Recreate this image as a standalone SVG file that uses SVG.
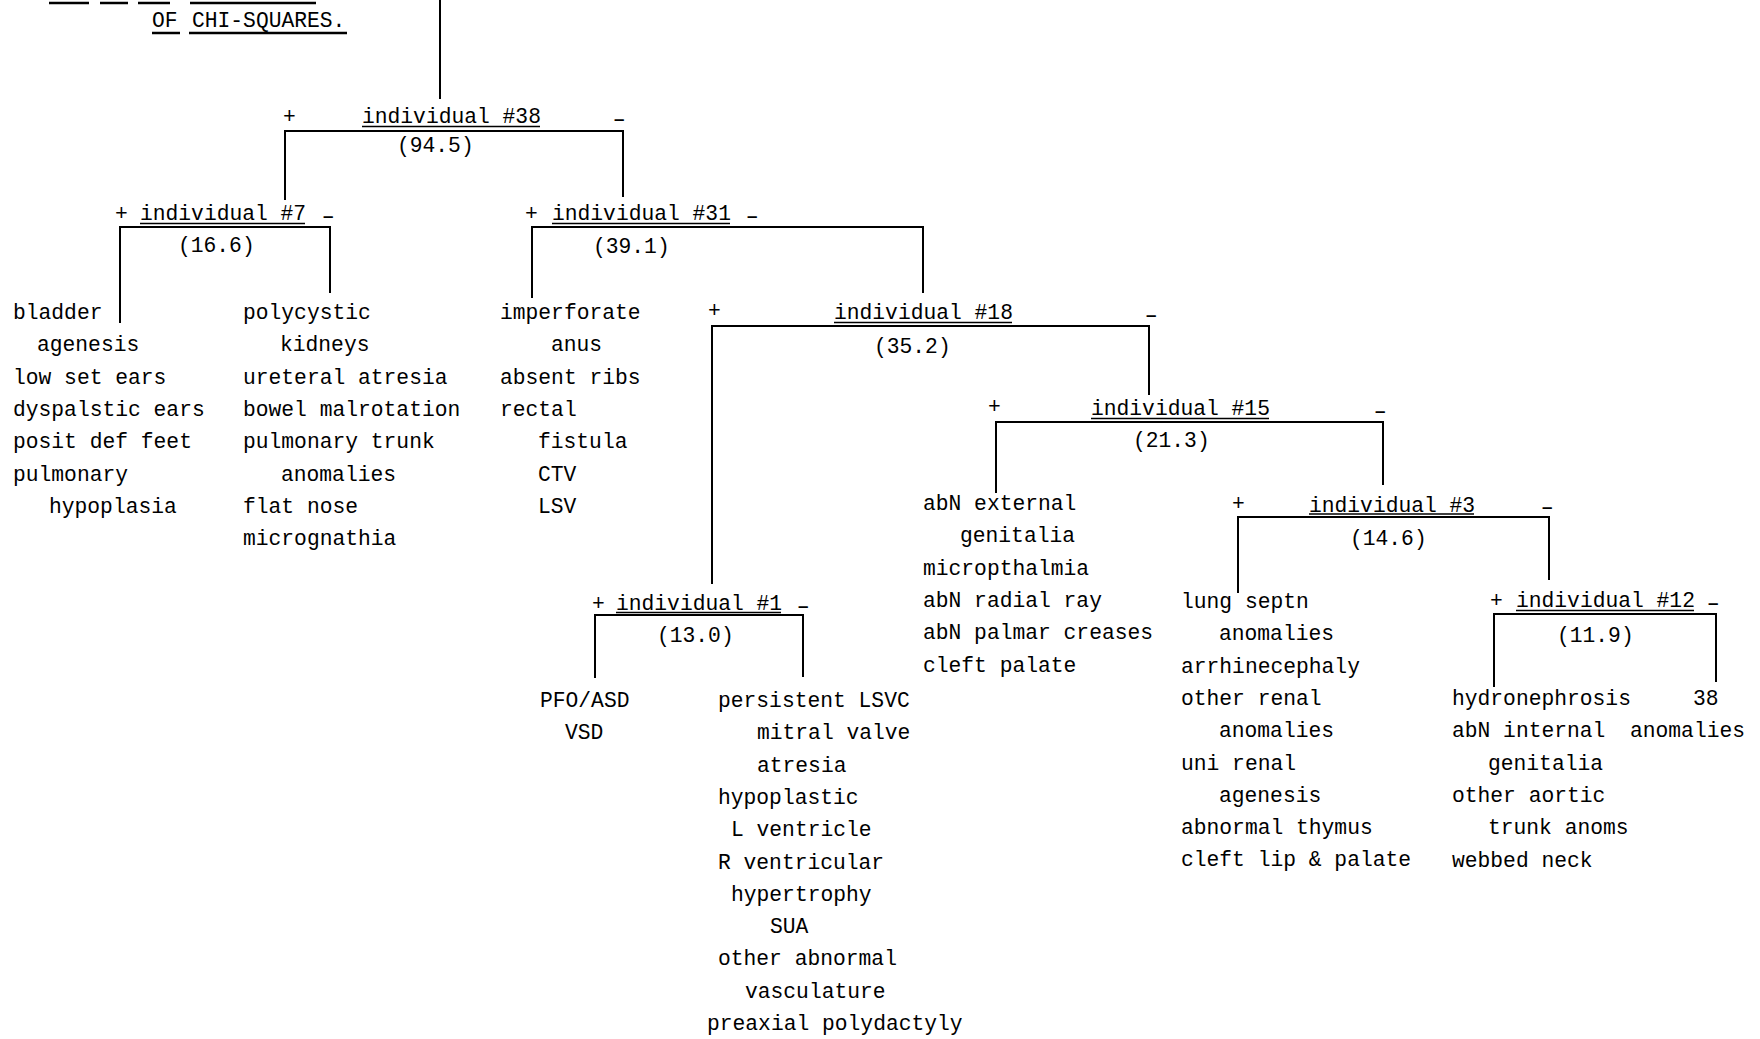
<svg xmlns="http://www.w3.org/2000/svg" width="1760" height="1039" viewBox="0 0 1760 1039">
<style>
text { font-family: "Liberation Mono", "DejaVu Sans Mono", monospace; font-size: 21.3px; fill: #000; }
.ln { stroke: #000; stroke-width: 2; fill: none; }
.ul { stroke: #000; stroke-width: 1.5; }
.tul { stroke: #000; stroke-width: 2.5; }
</style>
<rect width="1760" height="1039" fill="#fff"/>

<g id="title">
  <line class="tul" x1="49" y1="3" x2="89" y2="3"/>
  <line class="tul" x1="100" y1="3" x2="128" y2="3"/>
  <line class="tul" x1="138" y1="3" x2="170" y2="3"/>
  <line class="tul" x1="190" y1="3" x2="316" y2="3"/>
  <text x="152" y="27">OF</text>
  <text x="192" y="27">CHI-SQUARES.</text>
  <line class="tul" x1="152" y1="33" x2="180" y2="33"/>
  <line class="tul" x1="189" y1="33" x2="347" y2="33"/>
</g>

<g id="connectors" class="ln">
  <path d="M440,0 V99"/>
  <path d="M285,200 V131 H623 V197"/>
  <path d="M120,323 V227 H330 V293"/>
  <path d="M532,298 V227 H923 V293"/>
  <path d="M712,584 V326 H1149 V395"/>
  <path d="M996,493 V422 H1383 V485"/>
  <path d="M1238,593 V517 H1549 V580"/>
  <path d="M1494,687 V614 H1716 V682"/>
  <path d="M595,678 V615 H803 V677"/>
</g>

<g id="node38">
  <text x="283" y="123">+</text>
  <text x="362" y="123">individual #38</text>
  <line class="ul" x1="362" y1="126.5" x2="540" y2="126.5"/>
  <text transform="translate(609,126) scale(1.6,1)">-</text>
  <text x="397" y="152">(94.5)</text>
</g>

<g id="node7">
  <text x="115" y="220">+</text>
  <text x="140" y="220">individual #7</text>
  <line class="ul" x1="140" y1="223.5" x2="305" y2="223.5"/>
  <text transform="translate(318,223) scale(1.6,1)">-</text>
  <text x="178" y="252">(16.6)</text>
</g>

<g id="node31">
  <text x="525" y="220">+</text>
  <text x="552" y="220">individual #31</text>
  <line class="ul" x1="552" y1="223.5" x2="730" y2="223.5"/>
  <text transform="translate(742,223) scale(1.6,1)">-</text>
  <text x="593" y="253">(39.1)</text>
</g>

<g id="node18">
  <text x="708" y="317">+</text>
  <text x="834" y="319">individual #18</text>
  <line class="ul" x1="834" y1="322.5" x2="1012" y2="322.5"/>
  <text transform="translate(1141,322) scale(1.6,1)">-</text>
  <text x="874" y="353">(35.2)</text>
</g>

<g id="node15">
  <text x="988" y="413">+</text>
  <text x="1091" y="415">individual #15</text>
  <line class="ul" x1="1091" y1="418.5" x2="1269" y2="418.5"/>
  <text transform="translate(1370,418) scale(1.6,1)">-</text>
  <text x="1133" y="447">(21.3)</text>
</g>

<g id="node3">
  <text x="1232" y="510">+</text>
  <text x="1309" y="512">individual #3</text>
  <line class="ul" x1="1309" y1="514" x2="1474" y2="514"/>
  <text transform="translate(1537,514) scale(1.6,1)">-</text>
  <text x="1350" y="545">(14.6)</text>
</g>

<g id="node12">
  <text x="1490" y="607">+</text>
  <text x="1516" y="607">individual #12</text>
  <line class="ul" x1="1516" y1="610.5" x2="1694" y2="610.5"/>
  <text transform="translate(1703,610) scale(1.6,1)">-</text>
  <text x="1557" y="642">(11.9)</text>
</g>

<g id="node1">
  <text x="592" y="610">+</text>
  <text x="616" y="610">individual #1</text>
  <line class="ul" x1="616" y1="612.5" x2="781" y2="612.5"/>
  <text transform="translate(793,613) scale(1.6,1)">-</text>
  <text x="657" y="642">(13.0)</text>
</g>

<g id="leaf7plus">
  <text>
    <tspan x="13" y="319">bladder</tspan>
    <tspan x="37" y="351.3">agenesis</tspan>
    <tspan x="13" y="383.6">low set ears</tspan>
    <tspan x="13" y="415.9">dyspalstic ears</tspan>
    <tspan x="13" y="448.2">posit def feet</tspan>
    <tspan x="13" y="480.5">pulmonary</tspan>
    <tspan x="49" y="512.8">hypoplasia</tspan>
  </text>
</g>

<g id="leaf7minus">
  <text>
    <tspan x="243" y="319">polycystic</tspan>
    <tspan x="280" y="351.3">kidneys</tspan>
    <tspan x="243" y="383.6">ureteral atresia</tspan>
    <tspan x="243" y="415.9">bowel malrotation</tspan>
    <tspan x="243" y="448.2">pulmonary trunk</tspan>
    <tspan x="281" y="480.5">anomalies</tspan>
    <tspan x="243" y="512.8">flat nose</tspan>
    <tspan x="243" y="545.1">micrognathia</tspan>
  </text>
</g>

<g id="leaf31plus">
  <text>
    <tspan x="500" y="319">imperforate</tspan>
    <tspan x="551" y="351.3">anus</tspan>
    <tspan x="500" y="383.6">absent ribs</tspan>
    <tspan x="500" y="415.9">rectal</tspan>
    <tspan x="538" y="448.2">fistula</tspan>
    <tspan x="538" y="480.5">CTV</tspan>
    <tspan x="538" y="512.8">LSV</tspan>
  </text>
</g>

<g id="leaf15plus">
  <text>
    <tspan x="923" y="510">abN external</tspan>
    <tspan x="960" y="542.3">genitalia</tspan>
    <tspan x="923" y="574.6">micropthalmia</tspan>
    <tspan x="923" y="606.9">abN radial ray</tspan>
    <tspan x="923" y="639.2">abN palmar creases</tspan>
    <tspan x="923" y="671.5">cleft palate</tspan>
  </text>
</g>

<g id="leaf3plus">
  <text>
    <tspan x="1181" y="608">lung septn</tspan>
    <tspan x="1219" y="640.3">anomalies</tspan>
    <tspan x="1181" y="672.6">arrhinecephaly</tspan>
    <tspan x="1181" y="704.9">other renal</tspan>
    <tspan x="1219" y="737.2">anomalies</tspan>
    <tspan x="1181" y="769.5">uni renal</tspan>
    <tspan x="1219" y="801.8">agenesis</tspan>
    <tspan x="1181" y="834.1">abnormal thymus</tspan>
    <tspan x="1181" y="866.4">cleft lip &amp; palate</tspan>
  </text>
</g>

<g id="leaf12plus">
  <text>
    <tspan x="1452" y="705">hydronephrosis</tspan>
    <tspan x="1452" y="737.3">abN internal</tspan>
    <tspan x="1488" y="769.6">genitalia</tspan>
    <tspan x="1452" y="801.9">other aortic</tspan>
    <tspan x="1488" y="834.2">trunk anoms</tspan>
    <tspan x="1452" y="866.5">webbed neck</tspan>
  </text>
</g>

<g id="leaf12minus">
  <text>
    <tspan x="1693" y="705">38</tspan>
    <tspan x="1630" y="737.3">anomalies</tspan>
  </text>
</g>

<g id="leaf1plus">
  <text>
    <tspan x="540" y="707">PFO/ASD</tspan>
    <tspan x="565" y="739.3">VSD</tspan>
  </text>
</g>

<g id="leaf1minus">
  <text>
    <tspan x="718" y="707">persistent LSVC</tspan>
    <tspan x="757" y="739.3">mitral valve</tspan>
    <tspan x="757" y="771.6">atresia</tspan>
    <tspan x="718" y="803.9">hypoplastic</tspan>
    <tspan x="731" y="836.2">L ventricle</tspan>
    <tspan x="718" y="868.5">R ventricular</tspan>
    <tspan x="731" y="900.8">hypertrophy</tspan>
    <tspan x="770" y="933.1">SUA</tspan>
    <tspan x="718" y="965.4">other abnormal</tspan>
    <tspan x="745" y="997.7">vasculature</tspan>
    <tspan x="707" y="1030">preaxial polydactyly</tspan>
  </text>
</g>
</svg>
